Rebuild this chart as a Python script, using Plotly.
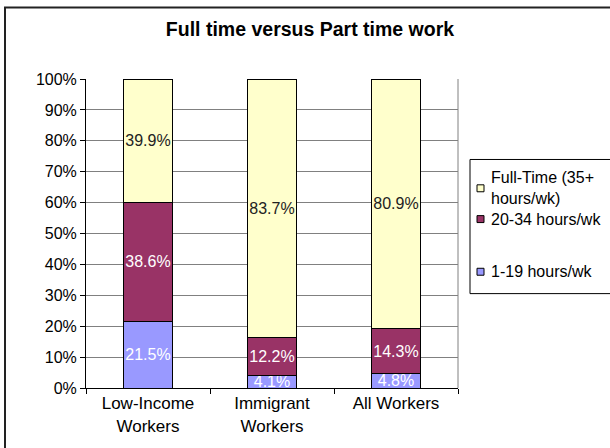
import plotly.graph_objects as go

# Share of workers by weekly hours, in percent
categories = ["Low-Income<br>Workers", "Immigrant<br>Workers", "All Workers"]
hours_1_19 = [21.5, 4.1, 4.8]
hours_20_34 = [38.6, 12.2, 14.3]
full_time = [39.9, 83.7, 80.9]

series_names = ["1-19 hours/wk", "20-34 hours/wk", "Full-Time (35+<br>hours/wk)"]
series_values = [hours_1_19, hours_20_34, full_time]
fill_colors = ["#9999FF", "#993366", "#FFFFCC"]
label_colors = ["white", "white", "#222222"]

y_ticks = list(range(0, 101, 10))
y_tick_text = [f"{v}%" for v in y_ticks]

FONT = "Liberation Sans, Arial, sans-serif"
W, H = 610, 448
ML, MR, MT, MB = 86, 152, 79, 58
PW, PH = W - ML - MR, H - MT - MB


def px_x(px):
    """Pixel column -> paper x."""
    return (px - ML) / PW


def px_y(py):
    """Pixel row -> paper y."""
    return (H - MB - py) / PH


fig = go.Figure()
for name, vals, fill, lab in zip(series_names, series_values, fill_colors, label_colors):
    fig.add_trace(go.Bar(
        x=categories,
        y=vals,
        name=name,
        marker=dict(color=fill, line=dict(color="#000000", width=1)),
        text=[f"{v:.1f}%" for v in vals],
        textposition="inside",
        insidetextanchor="middle",
        textangle=0,
        constraintext="none",
        textfont=dict(family=FONT, size=16, color=lab),
        hoverinfo="skip",
        showlegend=False,
    ))

fig.update_layout(
    width=W,
    height=H,
    barmode="stack",
    bargap=0.6,
    paper_bgcolor="white",
    plot_bgcolor="white",
    margin=dict(l=ML, r=MR, t=MT, b=MB),
    font=dict(family=FONT, size=16, color="#000000"),
    title=dict(
        text="<b>Full time versus Part time work</b>",
        x=310 / W, xref="container", xanchor="center",
        y=1 - 29 / H, yref="container", yanchor="middle",
        font=dict(family=FONT, size=19.5, color="#000000"),
    ),
    showlegend=False,
)

fig.update_xaxes(
    showline=True, linecolor="#000000", linewidth=1,
    ticks="outside", ticklen=5, tickcolor="#000000",
    tickson="boundaries",
    showgrid=False,
    tickfont=dict(family=FONT, size=17),
)
fig.update_yaxes(
    range=[0, 100],
    tickvals=y_ticks, ticktext=y_tick_text,
    showline=True, linecolor="#000000", linewidth=1,
    ticks="outside", ticklen=5, tickcolor="#000000",
    showgrid=True, gridcolor="#808080", gridwidth=1,
    zeroline=False,
    tickfont=dict(family=FONT, size=16),
)

# Right edge of the plot area
fig.add_shape(type="line", xref="paper", yref="paper",
              x0=1, x1=1, y0=0, y1=1,
              line=dict(color="#808080", width=1))

# Outer chart frame (runs past the right and bottom page edges)
fig.add_shape(type="rect", xref="paper", yref="paper",
              x0=px_x(5), x1=px_x(616),
              y0=px_y(456), y1=px_y(7),
              line=dict(color="#222222", width=2),
              fillcolor="rgba(0,0,0,0)", layer="below")

# Legend box, entries listed top to bottom
fig.add_shape(type="rect", xref="paper", yref="paper",
              x0=px_x(470), x1=px_x(640),
              y0=px_y(295), y1=px_y(160),
              line=dict(color="#000000", width=1),
              fillcolor="white", layer="below")

legend_rows = [
    (2, 189),   # Full-Time entry spans two lines
    (1, 220),
    (0, 273),
]
for idx, row_y in legend_rows:
    fig.add_shape(type="rect", xref="paper", yref="paper",
                  x0=px_x(477), x1=px_x(484),
                  y0=px_y(row_y + 3.5), y1=px_y(row_y - 3.5),
                  line=dict(color="#000000", width=1),
                  fillcolor=fill_colors[idx])
    fig.add_annotation(x=px_x(489), y=px_y(row_y), xref="paper", yref="paper",
                       text=series_names[idx], showarrow=False,
                       xanchor="left", yanchor="middle", align="left",
                       font=dict(family=FONT, size=16, color="#000000"))

fig.write_html("out.html")
